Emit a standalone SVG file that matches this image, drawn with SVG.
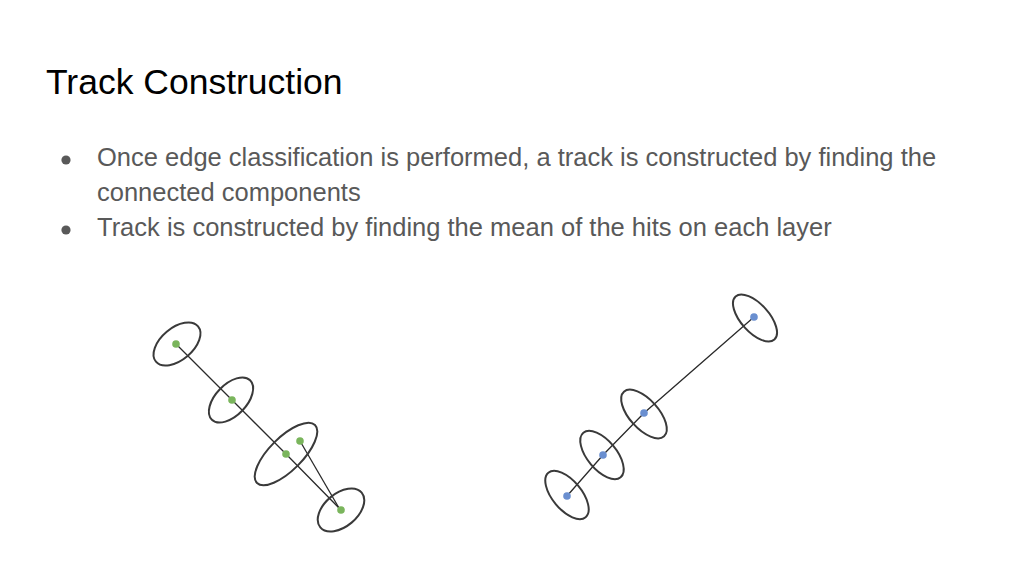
<svg xmlns="http://www.w3.org/2000/svg" width="1024" height="576" viewBox="0 0 1024 576">
<style>
.title{font-family:"Liberation Sans",Arial,sans-serif;font-size:35.5px;fill:#000}
.body{font-family:"Liberation Sans",Arial,sans-serif;font-size:25.5px;fill:#595959}
.ring{fill:none;stroke:#3a3a3a;stroke-width:2}
.edge{fill:none;stroke:#2a2a2a;stroke-width:1.3}
.g{fill:#7ab55c}
.b{fill:#6a8fd0}
</style>
<rect width="1024" height="576" fill="#fff"/>
<text class="title" x="46" y="94">Track Construction</text>
<g id="bullets">
<circle cx="66" cy="160" r="4.6" fill="#595959"/>
<circle cx="66" cy="230" r="4.6" fill="#595959"/>
<text class="body" x="97" y="166">Once edge classification is performed, a track is constructed by finding the</text>
<text class="body" x="97" y="201">connected components</text>
<text class="body" x="97" y="236">Track is constructed by finding the mean of the hits on each layer</text>
</g>
<g id="connectors">
<polyline class="edge" points="176,344 232,400 286,454 339,508"/>
<line class="edge" x1="300" y1="441" x2="339" y2="508"/>
<polyline class="edge" points="567,496 603,455 644,413 754,317"/>
</g>
<g id="left-layer1"><ellipse class="ring" cx="177" cy="344" rx="27.5" ry="16" transform="rotate(-40 177 344)"/><circle class="g" cx="176" cy="344" r="3.8"/></g>
<g id="left-layer2"><ellipse class="ring" cx="231" cy="400" rx="27.5" ry="15.5" transform="rotate(-46 231 400)"/><circle class="g" cx="232" cy="400" r="3.8"/></g>
<g id="left-layer3"><ellipse class="ring" cx="286" cy="454" rx="41" ry="16.5" transform="rotate(-45 286 454)"/><circle class="g" cx="300" cy="441" r="3.8"/><circle class="g" cx="286" cy="454" r="3.8"/></g>
<g id="left-layer4"><ellipse class="ring" cx="341" cy="510" rx="27" ry="16.5" transform="rotate(-40 341 510)"/><circle class="g" cx="341" cy="510" r="3.8"/></g>
<g id="right-layer1"><ellipse class="ring" cx="567" cy="495" rx="29" ry="14.5" transform="rotate(50 567 495)"/><circle class="b" cx="567" cy="496" r="3.8"/></g>
<g id="right-layer2"><ellipse class="ring" cx="602" cy="455" rx="29" ry="14.5" transform="rotate(50 602 455)"/><circle class="b" cx="603" cy="455" r="3.8"/></g>
<g id="right-layer3"><ellipse class="ring" cx="644" cy="414" rx="30" ry="14.5" transform="rotate(48 644 414)"/><circle class="b" cx="644" cy="413" r="3.8"/></g>
<g id="right-layer4"><ellipse class="ring" cx="755" cy="318" rx="29" ry="14" transform="rotate(48 755 318)"/><circle class="b" cx="754" cy="317" r="3.8"/></g>
</svg>
